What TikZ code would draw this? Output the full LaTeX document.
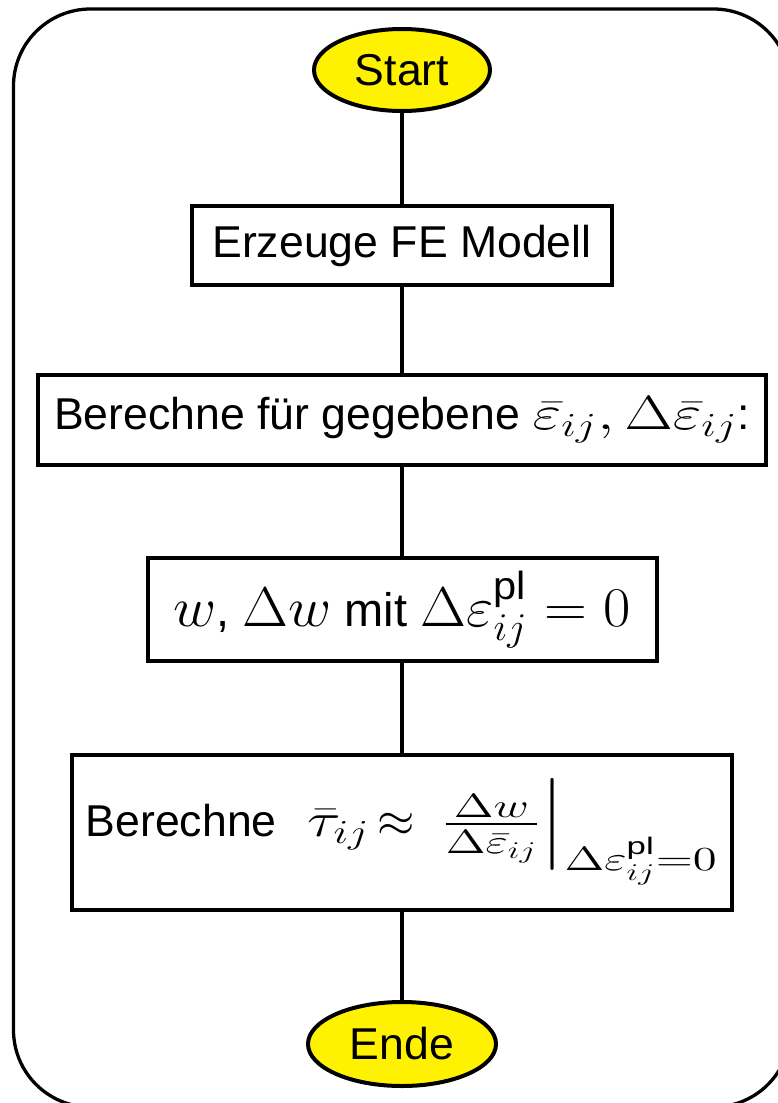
\RequirePackage{fix-cm}
\documentclass[tikz,border=0pt]{standalone}
\usepackage{amsmath}
\usepackage[no-math]{fontspec}
\setmainfont{Liberation Sans}
\usetikzlibrary{shapes.geometric}

% formula piece: #1 = horizontal widening, #2 = font size in pt, #3 = formula
\newcommand{\fm}[3]{\scalebox{#1}[1]{\fontsize{#2}{#2}\selectfont$#3$}}

\begin{document}
\begin{tikzpicture}[x=0.5pt,y=-0.5pt,
  every node/.style={font=\fontsize{22.3}{26}\selectfont},
  stepbox/.style={draw, line width=2pt, rectangle, inner sep=0pt},
  terminal/.style={draw, line width=2pt, ellipse, fill=yellow, inner sep=0pt},
  link/.style={line width=1.75pt}]
\useasboundingbox (0,0) rectangle (777,1103);

% outer frame
\draw[line width=1.65pt, rounded corners=38.5pt] (13.5,9) rectangle (790.5,1107);

% flow chart nodes
\node[terminal, minimum width=88pt, minimum height=41pt] (start) at (402,70) {Start};
\node[stepbox, minimum width=210pt, minimum height=39.5pt] (fe) at (402,245.5) {Erzeuge FE Modell};
\node[stepbox, minimum width=364pt, minimum height=45pt] (calc) at (402,420)
  {Berechne für gegebene \fm{1.3}{24}{\bar{\varepsilon}_{ij}, \Delta\bar{\varepsilon}_{ij}}:};
\node[stepbox, minimum width=254.5pt, minimum height=51.5pt,
      font=\fontsize{23.5}{27}\selectfont] (work) at (402,609.5)
  {\fm{1.06}{28}{w}, \fm{1.06}{28}{\Delta w} mit \fm{1.06}{28}{\Delta\varepsilon^{\text{pl}}_{ij} = 0}};
\node[stepbox, minimum width=330pt, minimum height=77.5pt] (tau) at (402,832.5)
  {Berechne\hspace{9pt} \fm{1.3}{24}{\bar{\tau}_{ij}}\hspace{4pt}\fm{1}{24}{\approx}\hspace{12pt}%
   \fm{1.45}{24}{\left.\frac{\Delta w}{\Delta\bar{\varepsilon}_{ij}}\right|_{\Delta\varepsilon^{\text{pl}}_{ij}=0}}};
\node[terminal, minimum width=94pt, minimum height=42pt] (ende) at (402,1044) {Ende};

% connectors
\draw[link] (start.south) -- (fe.north);
\draw[link] (fe.south) -- (calc.north);
\draw[link] (calc.south) -- (work.north);
\draw[link] (work.south) -- (tau.north);
\draw[link] (tau.south) -- (ende.north);
\end{tikzpicture}
\end{document}
